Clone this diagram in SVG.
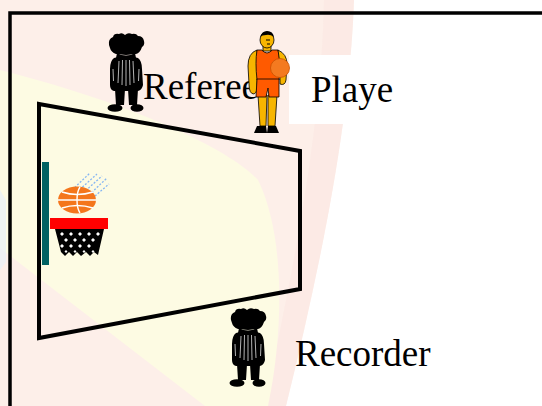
<svg xmlns="http://www.w3.org/2000/svg" width="542" height="406" viewBox="0 0 542 406">
  <style>
    .label { font-family: "Liberation Serif", "Times New Roman", serif; font-size: 37px; fill: #000; }
    .line { fill: none; stroke: #000; stroke-linejoin: miter; }
    .skin { fill: #f7b500; stroke: #000; stroke-width: 0.8; }
    .kit { fill: #ff5a00; stroke: #000; stroke-width: 0.8; }
    .seam { fill: none; stroke: #fff; stroke-width: 1.4; }
    .streak { stroke: #86b6f2; stroke-width: 1.3; stroke-dasharray: 2 1.6; }
    .stripe { stroke: #fff; stroke-width: 0.7; }
  </style>
  <defs>
    <!-- official in striped shirt, local box about 38 x 80 -->
    <symbol id="official" viewBox="0 0 38 80" width="38" height="80" overflow="visible">
      <g fill="#000">
        <path d="M2,12 Q1,6 6,4 Q7,0 12,1 Q15,-1 18,2 Q21,-1 25,1 Q29,0 31,3 Q36,3 37,8 Q38,12 35,14 Q33,20 29,21 L9,21 Q4,19 3,15 Z"/>
        <ellipse cx="19" cy="14" rx="13" ry="8"/>
        <path d="M10,20 Q19,25 28,20 L29,25 L9,25 Z"/>
        <path d="M7,25 Q19,21 31,25 Q35,28 35,36 L36,52 Q35,57 31,58 L7,58 Q3,57 3,52 L3,36 Q3,28 7,25 Z"/>
        <path d="M8,56 L18,56 L17,72 L9,72 Z"/>
        <path d="M21,56 L31,56 L30,72 L22,72 Z"/>
        <ellipse cx="8" cy="75" rx="7.5" ry="3.8"/>
        <ellipse cx="30" cy="75" rx="6.5" ry="3.8"/>
      </g>
      <g class="stripe">
        <line x1="12" y1="28" x2="11" y2="50"/>
        <line x1="15.5" y1="27" x2="15" y2="52"/>
        <line x1="19" y1="27" x2="19" y2="53"/>
        <line x1="22.5" y1="27" x2="23" y2="52"/>
        <line x1="26" y1="28" x2="27" y2="50"/>
        <line x1="6" y1="36" x2="6.5" y2="48"/>
        <line x1="32" y1="36" x2="31.5" y2="48"/>
      </g>
    </symbol>
  </defs>

  <!-- soft backdrop -->
  <g id="backdrop">
    <rect width="542" height="406" fill="#ffffff"/>
    <path d="M0,0 H354 C350,120 322,260 286,406 H0 Z" fill="#fdefe9"/>
    <path d="M324,0 H354 C350,120 322,260 286,406 H264 C296,260 322,120 324,0 Z" fill="#fbe4df" opacity="0.45"/>
    <path d="M0,70 C120,100 225,145 258,180 C285,235 284,330 268,406 H205 L0,248 Z" fill="#fdfbe3"/>
    <path d="M0,190 L6,200 L6,262 L0,270 Z" fill="#e6f0fa" opacity="0.6"/>
  </g>

  <!-- outer border -->
  <g id="frame">
    <polyline class="line" points="10,406 10,13 542,13" stroke-width="3.5"/>
  </g>

  <!-- half court outline -->
  <g id="court">
    <polygon class="line" points="39,104 300,151 300,289 39,338" stroke-width="4"/>
  </g>

  <!-- backboard, rim, net and ball -->
  <g id="hoop">
    <rect x="42" y="162" width="7" height="103" fill="#006262"/>
    <g class="streak">
      <line x1="72" y1="190" x2="90" y2="173"/>
      <line x1="77" y1="192" x2="97" y2="174"/>
      <line x1="83" y1="193" x2="102" y2="176"/>
      <line x1="89" y1="195" x2="107" y2="178"/>
      <line x1="95" y1="196" x2="109" y2="184"/>
    </g>
    <ellipse cx="77" cy="200" rx="19" ry="13.5" fill="#f4761c"/>
    <path class="seam" d="M80,187 C76,193 76,207 80,213"/>
    <path class="seam" d="M58,200 H96"/>
    <path class="seam" d="M62,192 Q77,197 93,192"/>
    <path class="seam" d="M62,208 Q77,203 93,208"/>
    <rect x="50" y="218" width="58" height="11" fill="#ff0000"/>
    <path d="M55,229 H104 L98,255 L94,252 L90,256 L86,252 L81,256 L77,252 L73,256 L69,252 L65,256 L61,252 Z" fill="#000"/>
    <g fill="#fff">
      <path d="M62,232 l2,2 l-2,2 l-2,-2 Z"/>
      <path d="M71,232 l2,2 l-2,2 l-2,-2 Z"/>
      <path d="M80,232 l2,2 l-2,2 l-2,-2 Z"/>
      <path d="M89,232 l2,2 l-2,2 l-2,-2 Z"/>
      <path d="M98,232 l2,2 l-2,2 l-2,-2 Z"/>
      <path d="M66,238 l2,2 l-2,2 l-2,-2 Z"/>
      <path d="M75,238 l2,2 l-2,2 l-2,-2 Z"/>
      <path d="M84,238 l2,2 l-2,2 l-2,-2 Z"/>
      <path d="M93,238 l2,2 l-2,2 l-2,-2 Z"/>
      <path d="M62,244 l2,2 l-2,2 l-2,-2 Z"/>
      <path d="M71,244 l2,2 l-2,2 l-2,-2 Z"/>
      <path d="M80,244 l2,2 l-2,2 l-2,-2 Z"/>
      <path d="M89,244 l2,2 l-2,2 l-2,-2 Z"/>
      <path d="M66,250 l1.5,1.5 l-1.5,1.5 l-1.5,-1.5 Z"/>
      <path d="M75,250 l1.5,1.5 l-1.5,1.5 l-1.5,-1.5 Z"/>
      <path d="M84,250 l1.5,1.5 l-1.5,1.5 l-1.5,-1.5 Z"/>
      <path d="M93,250 l1.5,1.5 l-1.5,1.5 l-1.5,-1.5 Z"/>
    </g>
  </g>

  <!-- referee near the top line -->
  <g id="referee">
    <use href="#official" x="107" y="33"/>
    <text class="label" x="143" y="99">Referee</text>
  </g>

  <!-- player holding a ball -->
  <g id="player">
    <rect x="289" y="55" width="127" height="69" fill="#ffffff"/>
    <!-- legs and shoes -->
    <path class="skin" d="M258,95 L267,95 L266,126 L260,126 Z"/>
    <path class="skin" d="M268,95 L277,95 L275,126 L268,126 Z"/>
    <path d="M257,126 H266 L267,133 H254 Z" fill="#000"/>
    <path d="M268,126 H276 L279,133 H267 Z" fill="#000"/>
    <!-- left arm -->
    <path class="skin" d="M257,50 Q248,53 248,66 L249,84 Q249,94 254,94 Q258,92 257,84 L258,66 Z"/>
    <!-- jersey -->
    <path class="kit" d="M257,50 L262,50 Q267,56 272,50 L278,50 Q281,60 279,80 L257,80 Q255,62 257,50 Z"/>
    <!-- shorts -->
    <path class="kit" d="M257,79 H279 L279,97 L269,97 L268,88 L266,97 L256,97 Z"/>
    <!-- right arm -->
    <path class="skin" d="M278,50 Q287,54 287,64 L286,80 Q285,86 280,84 L280,64 Z"/>
    <!-- head and neck -->
    <rect class="skin" x="263" y="44" width="8" height="7"/>
    <ellipse class="skin" cx="267" cy="40" rx="7" ry="8"/>
    <path d="M260,37 Q262,31 267,31 Q273,31 274,37 Q270,34 266,35 Q262,35 260,37 Z" fill="#000"/>
    <path d="M266,40 H270 M267,44 H270" stroke="#000" stroke-width="1.2"/>
    <!-- ball -->
    <circle cx="280" cy="68" r="9.5" fill="#f47a20" stroke="#c85000" stroke-width="0.8"/>
    <text class="label" x="311" y="102">Playe</text>
  </g>

  <!-- recorder below the baseline -->
  <g id="recorder">
    <use href="#official" x="229" y="308"/>
    <text class="label" x="295" y="366">Recorder</text>
  </g>
</svg>
